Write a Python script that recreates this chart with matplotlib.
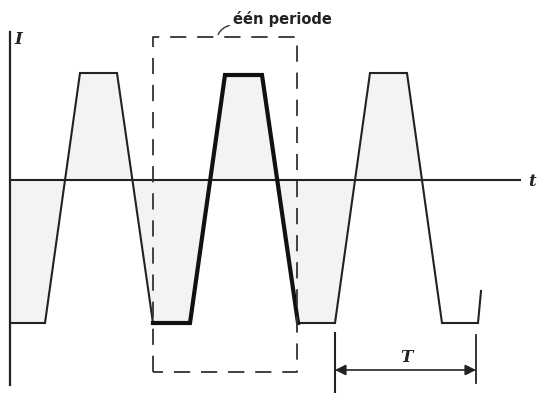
import matplotlib.pyplot as plt

# waveform corners (time, current), time and current in drawing units
t = [0, 35, 70, 107, 143, 180, 215, 252, 288, 325, 360, 397, 432, 468, 471]
i = [-143, -143, 107, 107, -143, -143, 105, 105, -143, -143, 107, 107, -143, -143, -111]

# shading stops where the last fall crosses zero
shade_t = t[:12] + [412]
shade_i = i[:12] + [0]

# one period highlighted in bold
t_per = [143, 180, 215, 252, 288]
i_per = [-143, -143, 105, 105, -143]

# dashed box around one period
box_t = [143, 143, 287, 287, 143]
box_i = [-192, 143, 143, -192, -192]

# period dimension
T_start, T_end = 325, 466

fig = plt.figure(figsize=(5.37, 3.93), dpi=100)
ax = fig.add_axes([0, 0, 1, 1])
ax.set_xlim(-10, 527)
ax.set_ylim(-213, 180)
ax.axis('off')

# light shading between curve and zero line
ax.fill_between(shade_t, shade_i, 0, color='#f3f3f3', lw=0)

# axes
ax.plot([0, 0], [-205, 148], color='#222222', lw=1.6)
ax.plot([0, 510], [0, 0], color='#222222', lw=1.5)
ax.text(8, 140, 'I', fontsize=12, fontweight='bold', style='italic', family='DejaVu Serif',
        ha='center', va='center', color='#222222')
ax.text(522, -2, 't', fontsize=12, fontweight='bold', style='italic', family='DejaVu Serif',
        ha='center', va='center', color='#222222')

# waveform
ax.plot(t, i, color='#222222', lw=1.5, solid_joinstyle='miter')
ax.plot(t_per, i_per, color='#111111', lw=3.0, solid_joinstyle='miter')

# dashed box
ax.plot(box_t, box_i, color='#333333', lw=1.3, dashes=(9, 6))
ax.text(223, 161, 'één periode', fontsize=10.5, fontweight='bold', ha='left', va='center',
        color='#222222')
ax.annotate('', xy=(207, 143), xytext=(222, 155),
            arrowprops=dict(arrowstyle='-', color='#333333', lw=1.0,
                            connectionstyle='arc3,rad=0.3'))

# period dimension
ax.plot([T_start, T_start], [-213, -153], color='#222222', lw=1.5)
ax.plot([T_end, T_end], [-203, -155], color='#222222', lw=1.3)
ax.annotate('', xy=(T_start, -190), xytext=(T_end, -190),
            arrowprops=dict(arrowstyle='<|-|>', color='#222222', lw=1.2,
                            mutation_scale=16, shrinkA=0, shrinkB=0))
ax.text((T_start + T_end) / 2 + 1, -177, 'T', fontsize=12, fontweight='bold', style='italic',
        family='DejaVu Serif', ha='center', va='center', color='#222222')

fig.savefig('out.png', dpi=100)
